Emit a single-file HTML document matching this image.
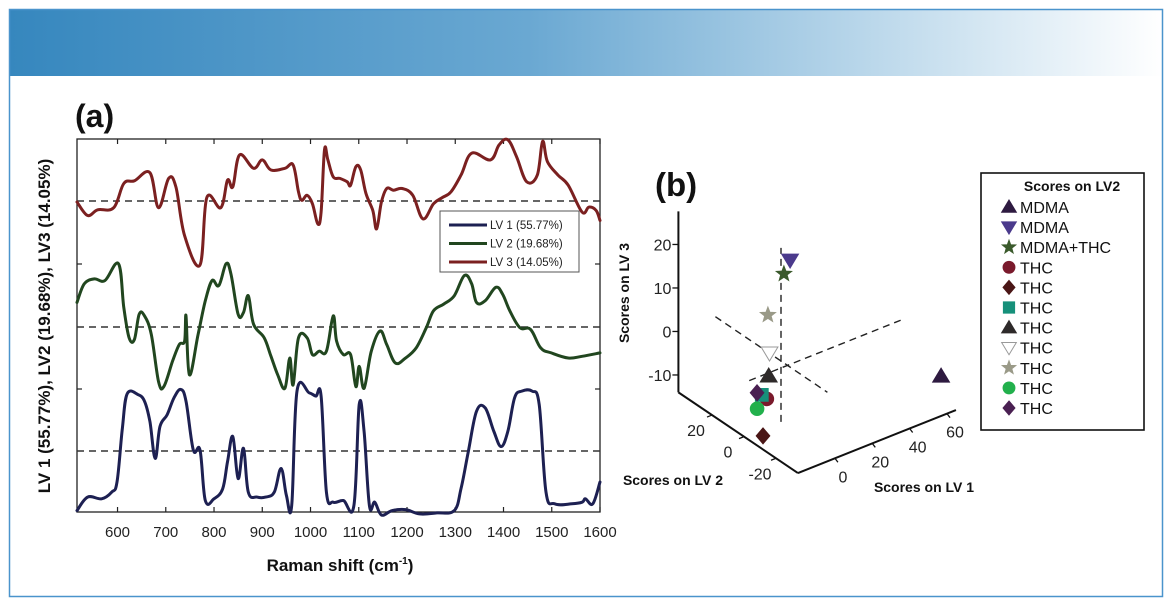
<!DOCTYPE html>
<html><head><meta charset="utf-8"><style>
html,body{margin:0;padding:0;background:#fff;}
svg{display:block;font-family:"Liberation Sans","DejaVu Sans",sans-serif;}
</style></head><body>
<svg id="fig" width="1174" height="608" viewBox="0 0 1174 608" xmlns="http://www.w3.org/2000/svg">
<defs>
<linearGradient id="hdr" x1="0" x2="1" y1="0" y2="0">
<stop offset="0" stop-color="#3687be"/><stop offset="0.45" stop-color="#6aa8d2"/><stop offset="0.8" stop-color="#c9e0ef"/><stop offset="1" stop-color="#ffffff"/>
</linearGradient>
</defs>
<rect x="9" y="9" width="1154" height="67" fill="url(#hdr)"/>
<rect x="9.5" y="9.5" width="1153" height="587" fill="none" stroke="#4a94cc" stroke-width="1.5"/>
<g id="pa"></g>
<g id="pb"></g>
</svg>
<script>
// ---------- Panel (a) data ----------
const lv1Wave = [516,538,567,588,599,610,620,642,656,667,678,688,703,717,731,742,757,771,782,800,818,828,839,850,861,871,889,907,925,939,950,961,972,997,1011,1022,1033,1047,1068,1090,1101,1111,1122,1133,1147,1169,1197,1226,1262,1298,1312,1327,1344,1362,1380,1395,1409,1423,1438,1459,1474,1488,1506,1542,1563,1570,1585,1600];
const lv1Vals = [-177,-137,-142,-122,-92,68,170,168,148,88,-22,73,108,158,183,148,3,3,-147,-142,-112,-32,43,-82,8,-122,-137,-137,-122,-52,-132,-162,178,173,163,163,-122,-152,-147,-162,138,58,-162,-152,-190,-177,-174,-187,-184,-177,-112,-2,118,128,58,13,58,158,178,178,138,-122,-157,-157,-152,-142,-157,-92];
const lv2Wave = [516,531,552,574,602,613,624,635,645,656,670,685,696,714,728,739,742,749,767,782,796,810,825,835,850,861,871,882,904,918,932,947,957,964,975,993,1004,1018,1033,1047,1054,1068,1083,1094,1101,1111,1126,1144,1158,1176,1197,1219,1240,1255,1276,1298,1319,1334,1344,1362,1384,1398,1413,1434,1456,1477,1499,1534,1563,1600];
const lv2Vals = [73,128,143,138,188,58,-32,-37,38,33,-22,-162,-177,-102,-52,-42,33,-142,-22,78,138,123,188,158,38,43,93,8,-32,-87,-142,-182,-92,-172,-32,-32,-82,-72,-72,33,-42,-82,-82,-177,-117,-182,-72,-12,-52,-107,-92,-62,-2,48,68,93,153,128,73,78,118,98,48,-2,-7,-62,-77,-92,-87,-77];
const lv3Wave = [516,538,559,592,613,635,667,685,706,721,739,771,785,814,828,839,853,882,900,918,947,964,975,982,993,1004,1015,1022,1029,1036,1047,1061,1076,1083,1094,1104,1115,1129,1137,1147,1158,1172,1190,1212,1233,1255,1273,1291,1312,1334,1373,1391,1409,1427,1448,1470,1481,1491,1513,1534,1563,1577,1592,1600];
const lv3Vals = [-3,-43,-26,-20,52,60,84,-20,67,42,-103,-190,10,-20,62,42,137,97,122,92,97,107,27,2,17,-8,-68,-33,152,122,72,67,57,47,102,92,22,-28,-83,-3,37,32,37,17,-53,-8,10,27,77,142,122,167,182,132,57,77,177,117,77,47,-33,-18,-28,-58];
const xTicks = [600,700,800,900,1000,1100,1200,1300,1400,1500,1600];
const seriesNames = ["LV 1 (55.77%)","LV 2 (19.68%)","LV 3 (14.05%)"];

// ---------- Panel (b) data ----------
const ptLabels = ["MDMA","MDMA","MDMA+THC","THC","THC","THC","THC","THC","THC","THC","THC"];
const ptLV1 = [60,10,8,-5,-5,-6,-4,-4,-4,-8,-7];
const ptLV2 = [-30,6,7.5,3,5.4,5,3,2.5,3.5,5.6,6.8];
const ptLV3 = [-6.3,20,16.8,-8.6,-17.7,-8,-3.5,1.9,10.4,-11,-7.8];
const lv3Ticks = [-10,0,10,20];
const lv2Ticks = [-20,0,20];
const lv1Ticks = [0,20,40,60];

const NS = "http://www.w3.org/2000/svg";
function mk(parent, tag, attrs, text){
  const e = document.createElementNS(NS, tag);
  for (const k in attrs) e.setAttribute(k, attrs[k]);
  if (text !== undefined) e.textContent = text;
  parent.appendChild(e);
  return e;
}
function smoothPath(pts){
  let d = 'M' + pts[0][0].toFixed(1) + ',' + pts[0][1].toFixed(1);
  for (let i=0;i<pts.length-1;i++){
    const p0 = pts[Math.max(0,i-1)], p1 = pts[i], p2 = pts[i+1], p3 = pts[Math.min(pts.length-1,i+2)];
    const t = 0.18;
    const c1 = [p1[0]+(p2[0]-p0[0])*t, p1[1]+(p2[1]-p0[1])*t];
    const c2 = [p2[0]-(p3[0]-p1[0])*t, p2[1]-(p3[1]-p1[1])*t];
    d += 'C'+c1[0].toFixed(1)+','+c1[1].toFixed(1)+' '+c2[0].toFixed(1)+','+c2[1].toFixed(1)+' '+p2[0].toFixed(1)+','+p2[1].toFixed(1);
  }
  return d;
}

// ===== Panel (a) =====
const pa = document.getElementById('pa');
const AX = {l:77, r:600, t:139, b:512};
const xDom = [516,1600];
function xs(w){ return AX.l + (w - xDom[0]) / (xDom[1]-xDom[0]) * (AX.r-AX.l); }
const bases = [451, 327, 201];
const ySc = 0.3366;
function ys(i, v){ return bases[i] - v * ySc; }

let t = mk(pa,'text',{x:75,y:127,'font-size':32,'font-weight':'bold',fill:'#111'},'(a)');



let fr = mk(pa,'rect',{x:AX.l,y:AX.t,width:AX.r-AX.l,height:AX.b-AX.t,fill:'none',stroke:'#222','stroke-width':1.3});



xTicks.forEach(v=>{
  const x = xs(v);
  let tk = mk(pa,'line',{x1:x,x2:x,y1:AX.b,y2:AX.b-5,stroke:'#222','stroke-width':1.2});
  
  
  let tk2 = mk(pa,'line',{x1:x,x2:x,y1:AX.t,y2:AX.t+5,stroke:'#222','stroke-width':1.2});
  
  
  let lb = mk(pa,'text',{x:x,y:537,'font-size':15,'text-anchor':'middle',fill:'#222'},String(v));
  
  
});
[264,389].forEach(y=>{
  let a1 = mk(pa,'line',{x1:AX.l,x2:AX.l+5,y1:y,y2:y,stroke:'#222','stroke-width':1.2});
  
  
  let a2 = mk(pa,'line',{x1:AX.r,x2:AX.r-5,y1:y,y2:y,stroke:'#222','stroke-width':1.2});
  
  
});
bases.forEach(b=>{
  let d = mk(pa,'line',{x1:AX.l,x2:AX.r,y1:b,y2:b,stroke:'#333','stroke-width':1.4,'stroke-dasharray':'7,5'});
  
  
});
const colors = ['#1d2052','#21461f','#7b2020'];
const waves = [lv1Wave, lv2Wave, lv3Wave];
const vals = [lv1Vals, lv2Vals, lv3Vals];
const curveNames = ['lv1-curve','lv2-curve','lv3-curve'];
for (let i=0;i<3;i++){
  const pts = waves[i].map((w,j)=> [xs(w), ys(i, vals[i][j])]);
  let pl = mk(pa,'path',{d:smoothPath(pts),fill:'none',stroke:colors[i],'stroke-width':3,'stroke-linejoin':'round','stroke-linecap':'round'});
  
  
}
// legend a
const lg = mk(pa,'g',{});


mk(lg,'rect',{x:440,y:211,width:139,height:61,fill:'#fff',stroke:'#555','stroke-width':1});
for (let i=0;i<3;i++){
  const y = 225 + i*18.5;
  let le = mk(lg,'line',{x1:449,x2:487,y1:y,y2:y,stroke:colors[i],'stroke-width':3});
  
  
  let lt = mk(lg,'text',{x:490,y:y+4,'font-size':11.5,fill:'#222'},seriesNames[i]);
  
  
}
let xt = mk(pa,'text',{x:340,y:571,'font-size':17,'font-weight':'bold','text-anchor':'middle',fill:'#111'});


xt.innerHTML = 'Raman shift (cm<tspan font-size="10" dy="-7">-1</tspan><tspan dy="7">)</tspan>';
let yt = mk(pa,'text',{x:0,y:0,'font-size':17,'font-weight':'bold','text-anchor':'middle',fill:'#111',transform:'translate(50,326) rotate(-90)'},'LV 1 (55.77%), LV2 (19.68%), LV3 (14.05%)');



// ===== Panel (b) =====
const pb = document.getElementById('pb');
const O = [781,361], A = [1.868,-0.745], B = [-1.6,-1.08], C = [0,-4.35];
function P(l1,l2,l3){ return [O[0]+A[0]*l1+B[0]*l2+C[0]*l3, O[1]+A[1]*l1+B[1]*l2+C[1]*l3]; }
const L1MIN=-19.8, L1MAX=64.8, L2MIN=-33.7, L2MAX=41, L3MIN=-14, L3MAX=27.6;

let tb = mk(pb,'text',{x:655,y:196,'font-size':33,'font-weight':'bold',fill:'#111'},'(b)');



function seg(p,q,attrs,name){
  const e = mk(pb,'line',Object.assign({x1:p[0],y1:p[1],x2:q[0],y2:q[1]},attrs));
  
  
  return e;
}
const axs = {stroke:'#111','stroke-width':2};
seg(P(L1MIN,L2MAX,L3MIN),P(L1MIN,L2MAX,L3MAX),axs,'lv3-axis');
seg(P(L1MIN,L2MAX,L3MIN),P(L1MIN,L2MIN,L3MIN),axs,'lv2-axis');
seg(P(L1MIN,L2MIN,L3MIN),P(L1MAX,L2MIN,L3MIN),axs,'lv1-axis');
const ds = {stroke:'#222','stroke-width':1.4,'stroke-dasharray':'7,5'};
seg(P(0,0,L3MIN),P(0,0,26),ds,'lv3-zero-line');
seg(P(0,41,0),P(0,-29,0),ds,'lv2-zero-line');
seg(P(-17,0,-1.6),P(65,0,-1.6),ds,'lv1-zero-line');

lv3Ticks.forEach(v=>{
  const p = P(L1MIN,L2MAX,v);
  seg(p,[p[0]-6,p[1]],{stroke:'#111','stroke-width':1.3},'lv3-tick');
  let l = mk(pb,'text',{x:p[0]-7,y:p[1]+6,'font-size':16,'text-anchor':'end',fill:'#222'},String(v));
  
  
});
lv2Ticks.forEach(v=>{
  const p = P(L1MIN,v,L3MIN);
  seg(p,[p[0]-5,p[1]+2],{stroke:'#111','stroke-width':1.3},'lv2-tick');
  let l = mk(pb,'text',{x:p[0]-16,y:p[1]+21,'font-size':16,'text-anchor':'middle',fill:'#222'},String(v));
  
  
});
lv1Ticks.forEach(v=>{
  const p = P(v,L2MIN,L3MIN);
  seg(p,[p[0]+3,p[1]+4],{stroke:'#111','stroke-width':1.3},'lv1-tick');
  let l = mk(pb,'text',{x:p[0]+8,y:p[1]+24,'font-size':16,'text-anchor':'middle',fill:'#222'},String(v));
  
  
});
let a3 = mk(pb,'text',{x:0,y:0,'font-size':14,'font-weight':'bold','text-anchor':'middle',fill:'#111',transform:'translate(629,293) rotate(-90)'},'Scores on LV 3');


let a2 = mk(pb,'text',{x:673,y:485,'font-size':14,'font-weight':'bold','text-anchor':'middle',fill:'#111'},'Scores on LV 2');


let a1 = mk(pb,'text',{x:924,y:492,'font-size':14,'font-weight':'bold','text-anchor':'middle',fill:'#111'},'Scores on LV 1');



const mShape = ['tri','tridown','star','circle','diamond','square','tri','tridown','star','circle','diamond'];
const mFill = ['#2e1a40','#4b3a8c','#3b5a2c','#7a1a2c','#4a1616','#16907a','#2e2a2a','#ffffff','#9a9a88','#22b04c','#4a2052'];
const mStroke = ['#2e1a40','#4b3a8c','#3b5a2c','#7a1a2c','#4a1616','#16907a','#2e2a2a','#999','#9a9a88','#22b04c','#4a2052'];
function marker(g, shape, cx, cy, s, fill, stroke){
  let d;
  if (shape==='tri') d = `M${cx},${cy-s} L${cx+s*1.05},${cy+s*0.75} L${cx-s*1.05},${cy+s*0.75}Z`;
  else if (shape==='tridown') d = `M${cx},${cy+s} L${cx+s*1.05},${cy-s*0.75} L${cx-s*1.05},${cy-s*0.75}Z`;
  else if (shape==='diamond') d = `M${cx},${cy-s} L${cx+s*0.85},${cy} L${cx},${cy+s} L${cx-s*0.85},${cy}Z`;
  else if (shape==='square') d = `M${cx-s*0.8},${cy-s*0.8} h${s*1.6} v${s*1.6} h${-s*1.6}Z`;
  else if (shape==='star'){
    d=''; for(let k=0;k<10;k++){const r=k%2?s*0.42:s; const an=-Math.PI/2+k*Math.PI/5; d+=(k?'L':'M')+(cx+r*Math.cos(an)).toFixed(1)+','+(cy+r*Math.sin(an)).toFixed(1);} d+='Z';
  }
  if (shape==='circle') return mk(g,'circle',{cx:cx,cy:cy,r:s*0.85,fill:fill,stroke:stroke,'stroke-width':1});
  return mk(g,'path',{d:d,fill:fill,stroke:stroke,'stroke-width':1});
}
for (let i=0;i<ptLV1.length;i++){
  const p = P(ptLV1[i],ptLV2[i],ptLV3[i]);
  const m = marker(pb, mShape[i], p[0], p[1], 8, mFill[i], mStroke[i]);
  
  
}
// legend b
const lb2 = mk(pb,'g',{});


mk(lb2,'rect',{x:981,y:173,width:163,height:257,fill:'#fff',stroke:'#111','stroke-width':1.6});
let lt2 = mk(lb2,'text',{x:1072,y:191,'font-size':14,'font-weight':'bold','text-anchor':'middle',fill:'#111'},'Scores on LV2');


for (let i=0;i<ptLabels.length;i++){
  const y = 207 + i*20.1;
  const m = marker(lb2, mShape[i], 1009, y, 7, mFill[i], mStroke[i]);
  
  
  const tx = mk(lb2,'text',{x:1020,y:y+6,'font-size':16,fill:'#111'},ptLabels[i]);
  
  
}
</script>
</body></html>
